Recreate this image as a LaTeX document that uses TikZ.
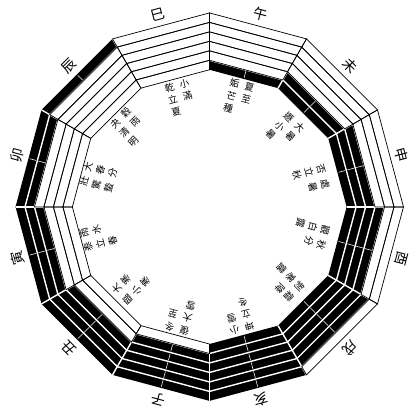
\documentclass[tikz,border=0pt]{standalone}
\usepackage{fontspec}
\newfontfamily\cjk{Noto Sans CJK TC}
\newcommand\vcol[1]{\begin{tabular}[t]{@{}c@{}}#1\end{tabular}}

\begin{document}
\begin{tikzpicture}[
yang/.style={draw=black,line width=0.5pt},
yin/.style={fill=black},
sep/.style={draw=white,line width=1pt},
branch/.style={font=\cjk\fontsize{10}{10}\selectfont,inner sep=0pt},
term/.style={font=\cjk\fontsize{6.8}{9}\selectfont,inner sep=0pt}
]
\useasboundingbox (-5.24,-5.075) rectangle (5.04,5.175);
\def\rin{3.43}
\def\bw{0.237}
% centre angle / first and last yang line (1 = innermost)
\def\hexlist{-105/1/1,-135/1/2,-165/1/3,165/1/4,135/1/5,105/1/6,75/2/6,45/3/6,15/4/6,-15/5/6,-45/6/6,-75/7/6}
% yin lines
\foreach \a/\lo/\hi in \hexlist{
  \foreach \j in {1,...,6}{
    \pgfmathsetmacro\ra{\rin+(\j-1)*\bw}
    \pgfmathsetmacro\rb{\rin+\j*\bw}
    \pgfmathtruncatemacro\isyang{(\j>=\lo)&&(\j<=\hi)}
    \ifnum\isyang=0
      \fill[yin] ({\a-15}:\ra) -- ({\a+15}:\ra) -- ({\a+15}:\rb) -- ({\a-15}:\rb) -- cycle;
      \draw[sep,line width=0.4pt] (\a:{\ra*cos(15)+0.03}) -- (\a:{\rb*cos(15)-0.03});
    \fi
  }
}
% gaps between lines and between hexagrams
\foreach \k in {1,...,5}{
  \pgfmathsetmacro\rk{\rin+\k*\bw}
  \draw[sep] (0:\rk) \foreach \t in {30,60,...,330}{ -- (\t:\rk)} -- cycle;
}
\foreach \t in {0,30,...,330}
  \draw[sep] (\t:\rin) -- (\t:{\rin+6*\bw});
% yang lines
\foreach \a/\lo/\hi in \hexlist{
  \foreach \j in {1,...,6}{
    \pgfmathsetmacro\ra{\rin+(\j-1)*\bw}
    \pgfmathsetmacro\rb{\rin+\j*\bw}
    \pgfmathtruncatemacro\isyang{(\j>=\lo)&&(\j<=\hi)}
    \ifnum\isyang=1
      \draw[yang] ({\a-15}:\ra) -- ({\a+15}:\ra) -- ({\a+15}:\rb) -- ({\a-15}:\rb) -- cycle;
    \fi
  }
}
% branches
\foreach \a/\b/\nm in {-105/子/zi,-135/丑/chou,-165/寅/yin,165/卯/mao,135/辰/chen,105/巳/si,75/午/wu,45/未/wei,15/申/shen,-15/酉/you,-45/戌/xu,-75/亥/hai}
  \node[branch,rotate=\a-90] (br-\nm) at (\a:4.98) {\b};
% hexagram names and solar terms
\foreach \a/\r/\lc/\rc/\nm in {
  -105/2.8/{復\\大\\雪}/{冬\\至}/zi,
  -135/2.75/{臨\\小\\寒}/{大\\寒}/chou,
  -165/2.85/{泰\\立\\春}/{雨\\水}/yin,
  165/2.85/{壯\\驚\\蟄}/{大\\春\\分}/mao,
  135/2.8/{夬\\清\\明}/{穀\\雨}/chen,
  105/2.8/{乾\\立\\夏}/{小\\滿}/si,
  75/2.8/{姤\\芒\\種}/{夏\\至}/wu,
  45/2.65/{遯\\小\\暑}/{大\\暑}/wei,
  15/2.6/{否\\立\\秋}/{處\\暑}/shen,
  -15/2.6/{觀\\白\\露}/{秋\\分}/you,
  -45/2.65/{剝\\寒\\露}/{霜\\降}/xu,
  -75/2.8/{坤\\立\\冬}/{小\\雪}/hai}
  \node[term,rotate=\a-90] (tm-\nm) at (\a:\r) {\vcol{\lc}\hspace{4pt}\vcol{\rc}};
\end{tikzpicture}
\end{document}
